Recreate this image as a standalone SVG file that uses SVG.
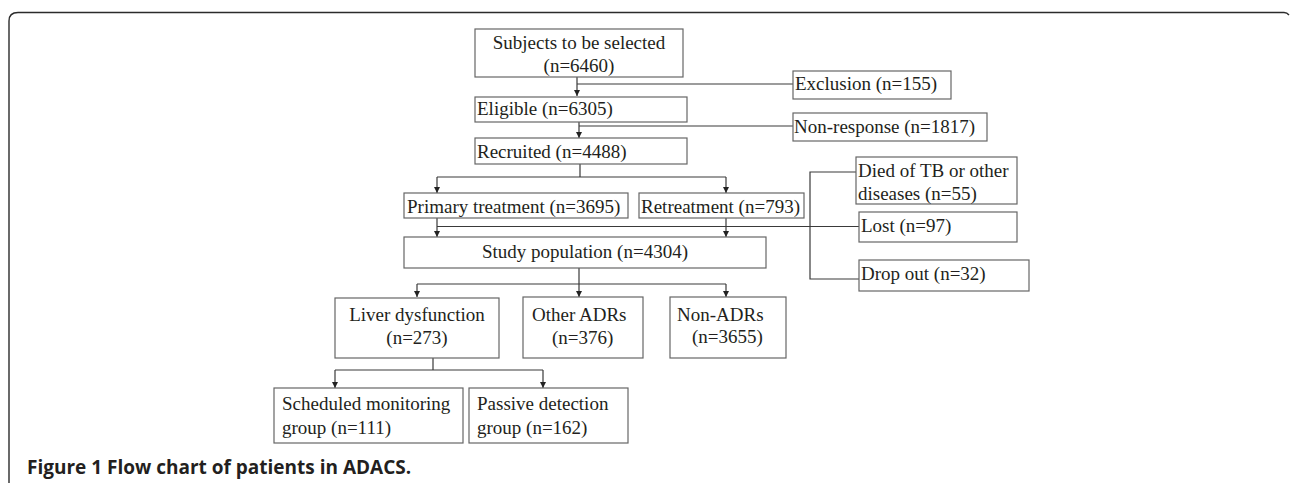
<svg xmlns="http://www.w3.org/2000/svg" width="1290" height="483" viewBox="0 0 1290 483">
<style>
.frame{fill:none;stroke:#2b2b2b;stroke-width:1.4}
.box{fill:#fff;stroke:#666;stroke-width:1.2}
.t{font-family:"Liberation Serif","Times New Roman",serif;font-size:19px;fill:#231f20}
.c{text-anchor:middle}
.ln{fill:none;stroke:#3a3a3a;stroke-width:1.2}
.arr{marker-end:url(#ah)}
.cap{font-family:"Open Sans","Liberation Sans",sans-serif;font-weight:bold;font-size:19px;fill:#231f20}
</style>
<defs>
<marker id="ah" markerWidth="7" markerHeight="7" refX="6" refY="3" orient="auto" markerUnits="userSpaceOnUse">
<path d="M0,0 L6,3 L0,6 z" fill="#222"/>
</marker>
</defs>
<rect width="1290" height="483" fill="#fff"/>
<path class="frame" d="M9,483 L9,21 Q9,12.5 18,12.5 L1284,12.5 Q1287,12.5 1289,15"/>
<g id="connectors">
<path class="ln arr" d="M577,77 L577,96"/>
<path class="ln" d="M577,84 L793,84"/>
<path class="ln arr" d="M579,122 L579,138"/>
<path class="ln" d="M579,126 L793,126"/>
<path class="ln" d="M580,164 L580,177 M437,177 L726,177"/>
<path class="ln arr" d="M437,177 L437,193"/>
<path class="ln arr" d="M726,177 L726,193"/>
<path class="ln arr" d="M437,218 L437,237"/>
<path class="ln arr" d="M726,218 L726,237"/>
<path class="ln" d="M437,226.5 L859,226.5"/>
<path class="ln" d="M856,172 L810,172 L810,279 L859,279"/>
<path class="ln" d="M579,268 L579,284 M417,284 L726,284"/>
<path class="ln arr" d="M417,284 L417,297"/>
<path class="ln arr" d="M579,284 L579,297"/>
<path class="ln arr" d="M726,284 L726,297"/>
<path class="ln" d="M433,358 L433,370 M335,370 L543,370"/>
<path class="ln arr" d="M335,370 L335,388"/>
<path class="ln arr" d="M543,370 L543,388"/>
</g>
<g id="subjects"><rect class="box" x="475" y="29" width="208" height="48"/><text class="t c" x="579" y="49">Subjects to be selected</text><text class="t c" x="579" y="72">(n=6460)</text></g>
<g id="exclusion"><rect class="box" x="793" y="71" width="158" height="28"/><text class="t" x="795" y="90">Exclusion (n=155)</text></g>
<g id="eligible"><rect class="box" x="475" y="97" width="212" height="25"/><text class="t" x="477" y="115">Eligible (n=6305)</text></g>
<g id="nonresponse"><rect class="box" x="793" y="113" width="194" height="28"/><text class="t" x="794" y="133">Non-response (n=1817)</text></g>
<g id="recruited"><rect class="box" x="475" y="138" width="212" height="26"/><text class="t" x="477" y="158">Recruited (n=4488)</text></g>
<g id="primary"><rect class="box" x="404" y="193" width="224" height="25"/><text class="t" x="407" y="213">Primary treatment (n=3695)</text></g>
<g id="retreatment"><rect class="box" x="639" y="193" width="165" height="25"/><text class="t" x="641" y="213">Retreatment (n=793)</text></g>
<g id="died"><rect class="box" x="856" y="157" width="161" height="47"/><text class="t" x="858" y="177">Died of TB or other</text><text class="t" x="858" y="200">diseases (n=55)</text></g>
<g id="lost"><rect class="box" x="859" y="212" width="158" height="30"/><text class="t" x="861" y="232">Lost (n=97)</text></g>
<g id="study"><rect class="box" x="404" y="237" width="362" height="31"/><text class="t c" x="585" y="258">Study population (n=4304)</text></g>
<g id="dropout"><rect class="box" x="859" y="260" width="170" height="31"/><text class="t" x="861" y="280">Drop out (n=32)</text></g>
<g id="liver"><rect class="box" x="335" y="298" width="164" height="60"/><text class="t c" x="417" y="321">Liver dysfunction</text><text class="t c" x="417" y="344">(n=273)</text></g>
<g id="other"><rect class="box" x="523" y="297" width="120" height="61"/><text class="t" x="532" y="321">Other ADRs</text><text class="t" x="552" y="344">(n=376)</text></g>
<g id="nonadr"><rect class="box" x="670" y="297" width="116" height="61"/><text class="t" x="677" y="321">Non-ADRs</text><text class="t" x="692" y="343">(n=3655)</text></g>
<g id="scheduled"><rect class="box" x="274" y="388" width="189" height="55"/><text class="t" x="282" y="410">Scheduled monitoring</text><text class="t" x="282" y="434">group (n=111)</text></g>
<g id="passive"><rect class="box" x="469" y="388" width="159" height="55"/><text class="t" x="477" y="410">Passive detection</text><text class="t" x="477" y="434">group (n=162)</text></g>
<text class="cap" x="27" y="474">Figure 1 Flow chart of patients in ADACS.</text>
</svg>
